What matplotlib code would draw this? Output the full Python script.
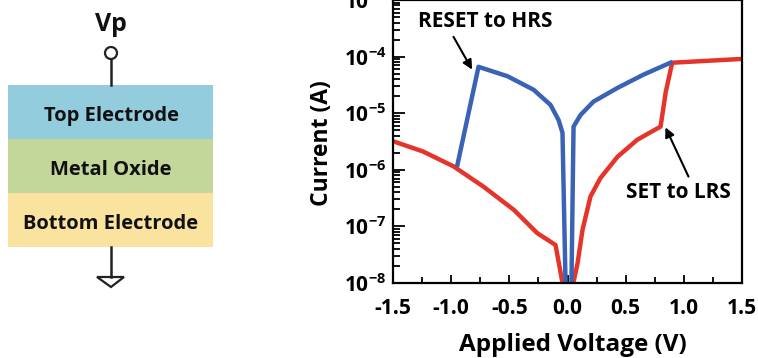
import matplotlib
matplotlib.use("Agg")
import matplotlib.pyplot as plt
from matplotlib.patches import Rectangle, Circle, Polygon
from matplotlib.ticker import FixedLocator, LogLocator, NullFormatter

plt.rcParams['font.family'] = ['Open Sans', 'DejaVu Sans']
plt.rcParams['font.weight'] = 'bold'
plt.rcParams['mathtext.fontset'] = 'custom'
plt.rcParams['mathtext.bf'] = 'Open Sans:bold'
plt.rcParams['mathtext.rm'] = 'Open Sans:bold'

# blue curve (HRS / LRS loop)
blue_v = [-0.946, -0.765, -0.516, -0.292, -0.146, -0.077, -0.043, -0.017, 0.009,
          0.034, 0.052, 0.112, 0.223, 0.43, 0.653, 0.885]
blue_i = [1.23e-6, 6.6e-5, 4.5e-5, 2.6e-5, 1.4e-5, 7.6e-6, 4.5e-6, 1e-8, 1e-9,
          1e-8, 5.8e-6, 9.3e-6, 1.6e-5, 2.8e-5, 4.8e-5, 7.8e-5]

# red curve
red_v = [-1.5, -1.24, -0.98, -0.72, -0.46, -0.26, -0.103, -0.043, -0.01,
         0.02, 0.05, 0.086, 0.129, 0.198, 0.284, 0.43, 0.60, 0.80, 0.845, 0.90, 1.5]
red_i = [3.2e-6, 2.1e-6, 1.15e-6, 5.0e-7, 1.95e-7, 7.6e-8, 4.7e-8, 1e-8, 1e-9,
         1e-9, 1e-8, 2.2e-8, 8.7e-8, 3.4e-7, 7.2e-7, 1.7e-6, 3.4e-6, 5.8e-6, 2.4e-5, 7.8e-5, 9.1e-5]

x_ticks = [-1.5, -1.0, -0.5, 0.0, 0.5, 1.0, 1.5]
x_labels = ['-1.5', '-1.0', '-0.5', '0.0', '0.5', '1.0', '1.5']
y_ticks = [1e-8, 1e-7, 1e-6, 1e-5, 1e-4, 1e-3]
y_labels = [r'$\mathbf{10^{-8}}$', r'$\mathbf{10^{-7}}$', r'$\mathbf{10^{-6}}$',
            r'$\mathbf{10^{-5}}$', r'$\mathbf{10^{-4}}$', r'$\mathbf{10^{-3}}$']

layers = ['Top Electrode', 'Metal Oxide', 'Bottom Electrode']
layer_colors = ['#93CDDD', '#C4D79B', '#FAE39E']

fig = plt.figure(figsize=(7.58, 3.58), dpi=100)

# left schematic, drawn in pixel coordinates
ax0 = fig.add_axes([0, 0, 1, 1])
ax0.set_xlim(0, 758)
ax0.set_ylim(358, 0)
ax0.axis('off')
for k, (name, col) in enumerate(zip(layers, layer_colors)):
    y0 = 85 + k * 54
    ax0.add_patch(Rectangle((8, y0), 205, 54, facecolor=col, edgecolor='none'))
    ax0.text(111, y0 + 36, name, ha='center', va='baseline', fontsize=14.5,
             fontweight='bold', color='#111111')
ax0.plot([111, 111], [59, 85], color='#222222', lw=1.8)
ax0.add_patch(Circle((111, 53), 6, facecolor='white', edgecolor='#222222', lw=1.6))
ax0.text(111, 31, 'Vp', ha='center', va='baseline', fontsize=18, fontweight='bold', color='#111111')
ax0.plot([111, 111], [247, 277], color='#222222', lw=1.8)
ax0.add_patch(Polygon([[97, 277], [124, 277], [111, 287]], closed=True,
                      facecolor='white', edgecolor='#222222', lw=1.6))

# I-V plot
ax = fig.add_axes([393 / 758, 1 - 283 / 358, 349 / 758, 283 / 358])
ax.semilogy(red_v, red_i, color='#E5342A', lw=3.2)
ax.semilogy(blue_v, blue_i, color='#3A62B5', lw=3.2)
ax.set_xlim(-1.5, 1.5)
ax.set_ylim(1e-8, 1e-3)
ax.set_xticks(x_ticks)
ax.set_xticklabels(x_labels, fontsize=15, fontweight='bold')
ax.xaxis.set_minor_locator(FixedLocator([-1.25, -0.75, -0.25, 0.25, 0.75, 1.25]))
ax.set_yticks(y_ticks)
ax.set_yticklabels(y_labels, fontsize=15)
ax.yaxis.set_minor_locator(LogLocator(base=10, subs=range(2, 10), numticks=20))
ax.yaxis.set_minor_formatter(NullFormatter())
ax.tick_params(which='both', direction='in', top=False, right=False, width=1.3)
ax.tick_params(axis='x', which='major', length=6, pad=11)
ax.tick_params(axis='x', which='minor', length=4)
ax.tick_params(axis='y', which='major', length=8.5, pad=5)
ax.tick_params(axis='y', which='minor', length=5)
for s in ax.spines.values():
    s.set_linewidth(1.6)
fig.text(573 / 758, 1 - 345 / 358, 'Applied Voltage (V)', ha='center', va='center',
         fontsize=17.5, fontweight='bold')
fig.text(322 / 758, 1 - 143 / 358, 'Current (A)', ha='center', va='center',
         rotation=90, fontsize=16.5, fontweight='bold')

ax.text(-0.705, 10 ** -3.38, 'RESET to HRS', ha='center', va='center',
        fontsize=15, fontweight='bold')
ax.annotate('', xy=(-0.82, 10 ** -4.23), xytext=(-0.98, 10 ** -3.65),
            arrowprops=dict(arrowstyle='-|>', color='black', lw=1.5, mutation_scale=14,
                            shrinkA=0, shrinkB=0))
ax.annotate('', xy=(0.842, 10 ** -5.25), xytext=(1.04, 10 ** -6.12),
            arrowprops=dict(arrowstyle='-|>', color='black', lw=1.5, mutation_scale=14,
                            shrinkA=0, shrinkB=0))
ax.text(0.955, 10 ** -6.40, 'SET to LRS', ha='center', va='center',
        fontsize=15, fontweight='bold')

fig.savefig('out.png', dpi=100)
